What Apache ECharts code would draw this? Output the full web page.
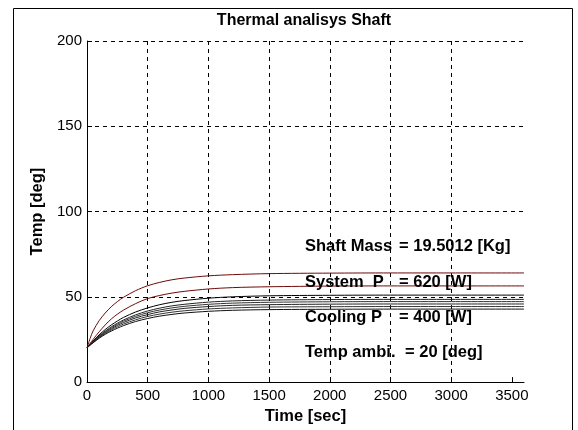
<!DOCTYPE html>
<html>
<head>
<meta charset="utf-8">
<script src="https://cdn.jsdelivr.net/npm/echarts@6/dist/echarts.min.js"></script>
<style>
html,body{margin:0;padding:0;background:#fff;}
#chart{width:578px;height:430px;}
</style>
</head>
<body>
<div id="chart"></div>
<script>
// Time samples [sec]
var timeSec = [0, 25, 50, 100, 150, 200, 250, 300, 400, 500, 600, 700, 800, 1000, 1200, 1500, 2000, 2500, 3000, 3600];
// Temperature curves [deg]
var curveA = [20, 25.5, 30.0, 36.0, 40.5, 44.2, 47.2, 49.7, 53.6, 56.5, 58.5, 60.0, 61.0, 62.3, 63.0, 63.6, 63.9, 64.0, 64.0, 64.0];
var curveB = [20, 22.6, 25.0, 29.5, 33.5, 37.0, 39.8, 42.2, 46.0, 49.0, 50.8, 52.2, 53.2, 54.6, 55.4, 55.9, 56.3, 56.4, 56.4, 56.4];
var curveC = [20, 22.1, 24.1, 27.7, 30.8, 33.5, 35.8, 37.9, 41.1, 43.5, 45.4, 46.8, 47.8, 49.2, 50.0, 50.6, 50.9, 51.0, 51.0, 51.0];
var curveD = [20, 22.0, 23.8, 27.1, 29.9, 32.4, 34.5, 36.4, 39.4, 41.7, 43.4, 44.7, 45.6, 46.9, 47.6, 48.1, 48.4, 48.5, 48.5, 48.5];
var curveE = [20, 21.9, 23.6, 26.8, 29.5, 31.8, 33.9, 35.7, 38.5, 40.7, 42.3, 43.5, 44.4, 45.6, 46.3, 46.8, 47.1, 47.2, 47.2, 47.2];
var curveF = [20, 21.8, 23.4, 26.4, 29.0, 31.2, 33.2, 34.9, 37.6, 39.6, 41.2, 42.3, 43.2, 44.3, 45.0, 45.4, 45.7, 45.8, 45.8, 45.8];
var curveG = [20, 21.7, 23.2, 26.1, 28.5, 30.6, 32.4, 34.0, 36.5, 38.5, 39.9, 41.0, 41.8, 42.9, 43.5, 44.0, 44.2, 44.3, 44.3, 44.3];
var curveH = [20, 21.6, 23.0, 25.7, 28.0, 29.9, 31.6, 33.1, 35.5, 37.3, 38.7, 39.7, 40.5, 41.5, 42.1, 42.5, 42.7, 42.8, 42.8, 42.8];
var xTicks = [0, 500, 1000, 1500, 2000, 2500, 3000, 3500];
var yTicks = [0, 50, 100, 150, 200];
var noteLabels = ["Shaft Mass", "System  P", "Cooling P", "Temp ambi."];
var noteValues = ["= 19.5012 [Kg]", "= 620 [W]", "= 400 [W]", "= 20 [deg]"];

var FONT = '"Liberation Sans", Arial, sans-serif';
function pairs(ys){ return timeSec.map(function(t,i){ return [t, ys[i]]; }); }
var curves = [
  {d: curveA, c: '#6e0a0a'},
  {d: curveB, c: '#6e0a0a'},
  {d: curveC, c: '#000'},
  {d: curveD, c: '#222'},
  {d: curveE, c: '#333'},
  {d: curveF, c: '#222'},
  {d: curveG, c: '#333'},
  {d: curveH, c: '#111'}
];
var series = curves.map(function(s){
  return {type:'line', data: pairs(s.d), showSymbol:false, smooth:0.3,
    lineStyle:{color:s.c, width:1}, silent:true, animation:false};
});

var noteY = [246, 282, 317, 352];
var valueX = [399, 399, 399, 405];
var graphics = [{
  type:'rect', shape:{x:13.5, y:8.5, width:559, height:440},
  style:{fill:null, stroke:'#000', lineWidth:1}, z:-1
}];
noteLabels.forEach(function(t,i){
  graphics.push({type:'text', x:305, y:noteY[i],
    style:{text:t, font:'bold 16.5px ' + FONT, fill:'#000', textVerticalAlign:'middle', textAlign:'left'}, z:100});
  graphics.push({type:'text', x:valueX[i], y:noteY[i],
    style:{text:noteValues[i], font:'bold 16.5px ' + FONT, fill:'#000', textVerticalAlign:'middle', textAlign:'left'}, z:100});
});
graphics.push({type:'text', x:304, y:21,
  style:{text:'Thermal analisys Shaft', font:'bold 16px ' + FONT, fill:'#000', textVerticalAlign:'middle', textAlign:'center'}, z:100});

var chart = echarts.init(document.getElementById('chart'), null, {renderer:'canvas'});
chart.setOption({
  animation:false,
  backgroundColor:'#fff',
  grid:{left:87, top:41, right:54, bottom:46, containLabel:false},
  xAxis:{type:'value', min:0, max:3600, interval:500,
    name:'Time [sec]', nameLocation:'middle', nameGap:25,
    nameTextStyle:{fontFamily:FONT, fontWeight:'bold', fontSize:16.5, color:'#000'},
    axisLine:{show:true, lineStyle:{color:'#000', width:1}},
    axisTick:{show:true, inside:true, length:5, customValues:xTicks, lineStyle:{color:'#000'}},
    axisLabel:{show:true, customValues:xTicks, margin:6, fontFamily:FONT, fontSize:15, color:'#000',
      formatter:function(v){ return String(v); }},
    splitLine:{show:true, showMinLine:false, showMaxLine:false, lineStyle:{color:'#000', type:[4,4], width:1}}
  },
  yAxis:{type:'value', min:0, max:200, interval:50,
    name:'Temp [deg]', nameLocation:'middle', nameGap:41.5, nameRotate:90,
    nameTextStyle:{fontFamily:FONT, fontWeight:'bold', fontSize:16.5, color:'#000'},
    axisLine:{show:true, lineStyle:{color:'#000', width:1}},
    axisTick:{show:true, inside:true, length:5, lineStyle:{color:'#000'}},
    axisLabel:{show:true, margin:5, fontFamily:FONT, fontSize:15, color:'#000',
      formatter:function(v){ return String(v); }},
    splitLine:{show:true, showMinLine:false, lineStyle:{color:'#000', type:[4,4], width:1}}
  },
  series: series,
  graphic: graphics
});
</script>
</body>
</html>
